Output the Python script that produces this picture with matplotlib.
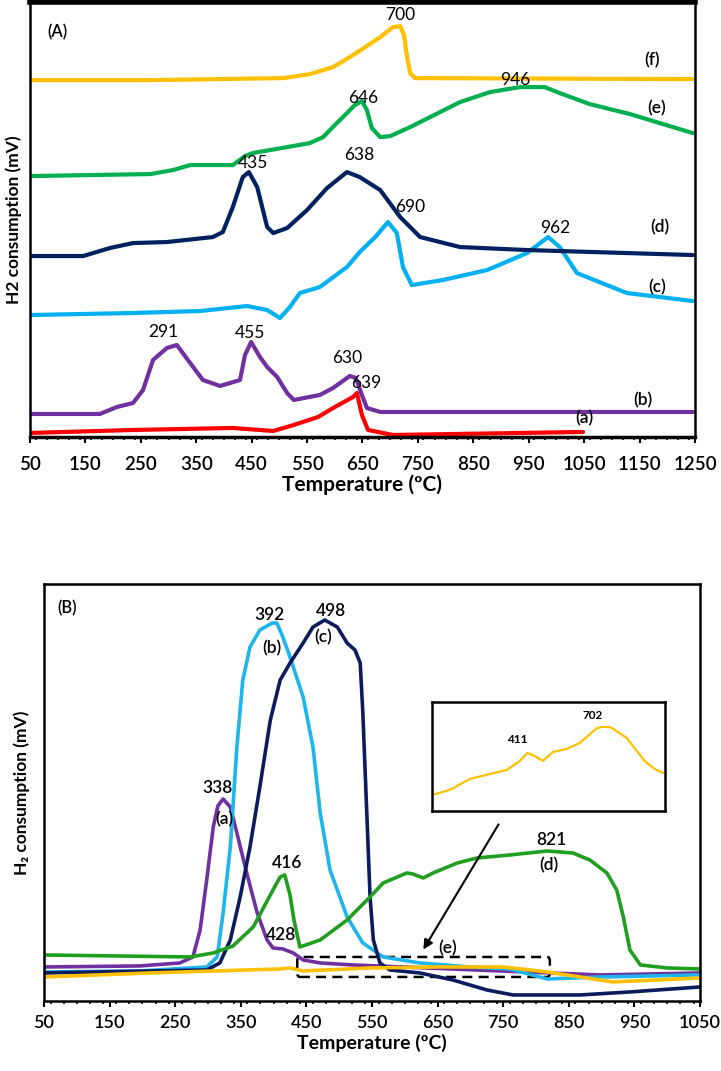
import matplotlib
matplotlib.use("Agg")
import matplotlib.pyplot as plt
from matplotlib.patches import FancyBboxPatch
from matplotlib.ticker import MultipleLocator

plt.rcParams['font.family'] = ['Lato', 'DejaVu Sans']
plt.rcParams['lines.solid_joinstyle'] = 'round'
plt.rcParams['lines.solid_capstyle'] = 'round'

# ---------------- panel (A) data: temperature (C) vs signal (arb.) ----------------
a_T = [50, 236, 416, 489, 526, 570, 597, 633, 640, 649, 660, 705, 1048]
a_h = [4, 7, 9, 6, 12, 20, 29, 40, 44, 22, 7, 2, 5]

b_T = [50, 176, 207, 236, 254, 272, 297, 315, 339, 362, 393, 429, 438, 449, 465,
       478, 496, 514, 526, 573, 597, 627, 638, 649, 658, 682, 1246]
b_h = [23, 23, 30, 34, 47, 77, 89, 92, 74, 57, 51, 57, 82, 95, 80,
       70, 60, 44, 37, 42, 49, 61, 59, 42, 29, 25, 25]

c_T = [50, 236, 357, 442, 478, 501, 519, 537, 573, 622, 645, 673, 696, 712, 723,
       739, 795, 875, 947, 985, 1006, 1037, 1127, 1246]
c_h = [122, 124, 126, 131, 127, 119, 130, 144, 150, 170, 185, 200, 215, 204, 170,
       152, 157, 167, 184, 200, 190, 164, 144, 136]

d_T = [50, 146, 194, 236, 297, 380, 398, 416, 434, 445, 460, 478, 489, 514, 550,
       586, 622, 645, 682, 718, 754, 826, 947, 1246]
d_h = [181, 181, 189, 194, 195, 200, 205, 230, 260, 265, 250, 210, 204, 209, 227,
       249, 265, 260, 247, 220, 200, 190, 187, 182]

e_T = [50, 267, 308, 339, 416, 438, 452, 555, 579, 600, 622, 636, 649, 658, 667,
       682, 700, 736, 772, 826, 880, 934, 979, 1006, 1060, 1133, 1246]
e_h = [261, 263, 267, 272, 272, 281, 284, 294, 300, 312, 324, 332, 336, 327, 309,
       300, 301, 310, 320, 335, 345, 350, 350, 344, 333, 323, 304]

f_T = [50, 267, 507, 555, 597, 627, 655, 682, 705, 718, 725, 730, 736, 745, 1246]
f_h = [357, 357, 359, 363, 370, 380, 390, 400, 410, 411, 402, 382, 364, 359, 358]

top_peaks = [("700", 718, 422), ("946", 925, 357), ("646", 651, 339), ("435", 452, 274),
             ("638", 644, 282), ("690", 736, 230), ("962", 997, 209), ("291", 290, 105),
             ("455", 447, 104), ("630", 622, 79), ("639", 656, 54)]
top_tags = [("(f)", 1172, 377), ("(e)", 1181, 329), ("(d)", 1187, 210),
            ("(c)", 1181, 150), ("(b)", 1156, 37), ("(a)", 1051, 19)]

# ---------------- panel (B) data ----------------
ba_T = [50, 196, 257, 277, 288, 298, 308, 315, 323, 334, 344, 359, 375, 390, 399,
        414, 430, 445, 471, 521, 597, 745, 898, 1050]
ba_h = [34, 35, 38, 44, 71, 121, 174, 195, 202, 194, 168, 128, 88, 61, 53,
        52, 48, 41, 38, 36, 34, 30, 26, 28]

bb_T = [50, 196, 298, 314, 323, 334, 344, 353, 364, 379, 398, 405, 414, 425, 445,
        460, 471, 486, 512, 536, 567, 623, 699, 760, 817, 898, 1050]
bb_h = [29, 30, 34, 44, 88, 154, 254, 321, 354, 371, 378, 378, 364, 344, 304,
        254, 188, 131, 84, 58, 44, 38, 34, 32, 22, 24, 26]

bc_T = [50, 298, 318, 334, 349, 364, 379, 395, 410, 425, 445, 460, 478, 497, 512,
        524, 532, 536, 542, 547, 552, 562, 577, 623, 673, 725, 765, 867, 943, 1050]
bc_h = [28, 31, 38, 61, 104, 154, 214, 281, 321, 338, 358, 374, 381, 374, 358,
        351, 338, 288, 188, 104, 61, 38, 31, 28, 21, 11, 6, 6, 9, 14]

bd_T = [50, 273, 308, 338, 369, 399, 410, 417, 425, 431, 440, 471, 512, 547, 567,
        603, 612, 628, 643, 680, 710, 760, 817, 856, 882, 908, 923, 933, 943, 959,
        1000, 1050]
bd_h = [46, 44, 48, 55, 74, 111, 124, 126, 106, 81, 54, 61, 81, 104, 118,
        128, 127, 123, 128, 138, 143, 146, 150, 148, 141, 128, 111, 84, 51, 36,
        33, 32]

be_T = [50, 212, 410, 425, 445, 547, 649, 750, 817, 917, 1050]
be_h = [24, 28, 32, 33, 30, 33, 34, 34, 29, 19, 23]

# inset: zoom of curve (e)
in_T = [437, 467, 501, 535, 563, 585, 598, 610, 624, 641, 664, 686, 715, 725, 733,
        740, 765, 795, 812, 826]
in_h = [16, 21, 32, 37, 41, 50, 58, 55, 50, 59, 62, 68, 83, 84, 84,
        83, 73, 50, 42, 38]

bot_labels = [("392", 394, 386), ("(b)", 397, 353), ("498", 487, 390), ("(c)", 476, 364),
              ("338", 315, 213), ("(a)", 325, 182), ("416", 420, 138), ("428", 412, 66),
              ("821", 823, 161), ("(d)", 820, 136), ("(e)", 665, 53)]

YELLOW = '#ffc000'
GREEN = '#00b050'
GREEN2 = '#1f9e1f'
NAVY = '#002060'
NAVY2 = '#0b1b5e'
LBLUE = '#00b0f0'
LBLUE2 = '#1eb4ec'
PURPLE = '#7030a0'
RED = '#ff0000'

fig = plt.figure(figsize=(7.21, 10.71), dpi=100)

# ================= (A) =================
ax1 = fig.add_axes([0.0416, 0.592, 0.9223, 0.406])
lw1 = 3.0
ax1.plot(a_T, a_h, color=RED, lw=lw1)
ax1.plot(b_T, b_h, color=PURPLE, lw=lw1)
ax1.plot(c_T, c_h, color=LBLUE, lw=lw1)
ax1.plot(d_T, d_h, color=NAVY, lw=lw1)
ax1.plot(e_T, e_h, color=GREEN, lw=lw1)
ax1.plot(f_T, f_h, color=YELLOW, lw=lw1)

ax1.set_xlim(50, 1250)
ax1.set_ylim(0, 435)
ax1.set_xticks(range(50, 1251, 100))
ax1.xaxis.set_minor_locator(MultipleLocator(20))
ax1.set_yticks([])
ax1.tick_params(axis='x', which='major', direction='out', length=4, width=1.5,
                labelsize=13.5, pad=10)
ax1.tick_params(axis='x', which='minor', direction='out', length=2.5, width=1.2)
for lab in ax1.get_xticklabels():
    lab.set_fontweight('semibold')
for s in ax1.spines.values():
    s.set_linewidth(1.8)
ax1.spines['top'].set_linewidth(4)
ax1.spines['bottom'].set_linewidth(2.5)
ax1.set_xlabel('Temperature (ºC)', fontsize=15, fontweight='bold', labelpad=1)
ax1.set_ylabel('H2 consumption (mV)', fontsize=12.5, fontweight='bold', labelpad=6)
ax1.text(99, 405, '(A)', fontsize=12, fontweight='semibold', ha='center', va='center')
for t, x, y in top_peaks:
    ax1.text(x, y, t, fontsize=12.5, ha='center', va='center')
for t, x, y in top_tags:
    ax1.text(x, y, t, fontsize=12.5, fontweight='semibold', ha='center', va='center')

# ================= (B) =================
ax2 = fig.add_axes([0.061, 0.0654, 0.910, 0.3893])
lw2 = 2.6
ax2.plot(ba_T, ba_h, color=PURPLE, lw=lw2)
ax2.plot(bb_T, bb_h, color=LBLUE2, lw=lw2)
ax2.plot(bc_T, bc_h, color=NAVY2, lw=lw2)
ax2.plot(bd_T, bd_h, color=GREEN2, lw=lw2)
ax2.plot(be_T, be_h, color=YELLOW, lw=lw2)

ax2.set_xlim(50, 1050)
ax2.set_ylim(0, 417)
ax2.set_xticks(range(50, 1051, 100))
ax2.xaxis.set_minor_locator(MultipleLocator(20))
ax2.set_yticks([])
ax2.tick_params(axis='x', which='major', direction='out', length=4, width=1.5,
                labelsize=13, pad=6)
ax2.tick_params(axis='x', which='minor', direction='out', length=2.5, width=1.2)
for lab in ax2.get_xticklabels():
    lab.set_fontweight('semibold')
for s in ax2.spines.values():
    s.set_linewidth(1.8)
ax2.set_xlabel('Temperature (ºC)', fontsize=14, fontweight='bold', labelpad=2)
ax2.set_ylabel('H₂ consumption (mV)', fontsize=12.5, fontweight='bold', labelpad=10)
ax2.text(85, 393, '(B)', fontsize=12, fontweight='semibold', ha='center', va='center')
for t, x, y in bot_labels:
    ax2.text(x, y, t, fontsize=12.5, fontweight='semibold', ha='center', va='center')

# dashed selection box around curve (e)
box = FancyBboxPatch((436, 24), 821 - 436, 20,
                     boxstyle='round,pad=0,rounding_size=4', fill=False,
                     edgecolor='black', lw=1.8, ls=(0, (4, 2.5)))
ax2.add_patch(box)
ax2.annotate('', xy=(626, 49), xytext=(745, 179),
             arrowprops=dict(arrowstyle='-|>', color='black', lw=1.5,
                             mutation_scale=14))

# inset
ax3 = fig.add_axes([0.599, 0.2428, 0.323, 0.1018])
ax3.plot(in_T, in_h, color=YELLOW, lw=1.6)
ax3.set_xlim(437, 829)
ax3.set_ylim(0, 109)
ax3.set_xticks([])
ax3.set_yticks([])
for s in ax3.spines.values():
    s.set_linewidth(1.8)
ax3.text(580, 71, '411', fontsize=8.5, fontweight='bold', ha='center', va='center')
ax3.text(708, 95, '702', fontsize=8.5, fontweight='bold', ha='center', va='center')

fig.savefig('out.png', dpi=100)
